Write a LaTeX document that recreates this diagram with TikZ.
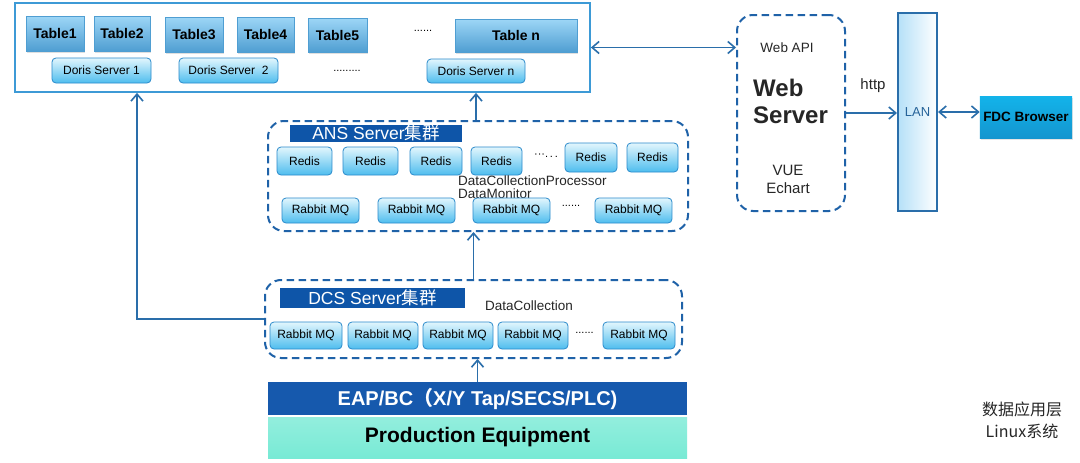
\documentclass[tikz,border=0pt]{standalone}
\usepackage{fontspec}
\setmainfont{Liberation Sans}
\newfontfamily\cjk{Noto Sans CJK SC}
\usepackage{tikz}
\usetikzlibrary{arrows.meta,positioning,calc,shadows}
\definecolor{linkblue}{HTML}{2A6EAA}
\definecolor{frameblue}{HTML}{3D9AD6}
\definecolor{tabtop}{HTML}{9DD6F6}
\definecolor{tabbot}{HTML}{4F9ED2}
\definecolor{srvtop}{HTML}{E2F6FD}
\definecolor{srvbot}{HTML}{4EBDEE}
\definecolor{srvline}{HTML}{2A8ACB}
\definecolor{clusterline}{HTML}{1F62A8}
\definecolor{titleblue}{HTML}{0E55A8}
\definecolor{eapblue}{HTML}{1659AD}
\definecolor{mint}{HTML}{78EAD5}
\definecolor{fdcblue}{HTML}{16A6E6}
\tikzset{
  tablebox/.style={rectangle, inner sep=0pt, top color=tabtop, bottom color=tabbot,
    draw=tabbot, line width=0.4pt, font=\fontsize{14}{16}\selectfont\bfseries,
    drop shadow={opacity=0.25, shadow xshift=1pt, shadow yshift=-1.5pt}},
  srvbox/.style={rectangle, rounded corners=4pt, draw=srvline, line width=0.8pt,
    top color=srvtop, bottom color=srvbot, inner sep=0pt,
    font=\fontsize{12}{13}\selectfont},
  cluster/.style={rectangle, rounded corners=16pt, draw=clusterline, line width=2pt,
    dash pattern=on 7.5pt off 4.5pt},
  clustertitle/.style={rectangle, fill=titleblue, text=white, inner sep=0pt,
    font=\fontsize{17.5}{19}\selectfont},
  bar/.style={rectangle, inner sep=0pt, font=\fontsize{20}{22}\selectfont\bfseries},
  note/.style={font=\fontsize{13}{14}\selectfont, text=black!85, inner sep=0pt},
  dotsnote/.style={font=\fontsize{11}{12}\selectfont, inner sep=0pt},
  flow/.style={-{Straight Barb[length=7pt,width=12pt]}, line width=1.6pt, draw=linkblue},
  flowboth/.style={{Straight Barb[length=7pt,width=12pt]}-{Straight Barb[length=7pt,width=12pt]},
    line width=1.6pt, draw=linkblue},
}

\begin{document}
\begin{tikzpicture}[x=1pt, y=-1pt]
  \useasboundingbox[fill=white] (0,0) rectangle (1080,463);

  % storage layer
  \node[rectangle, draw=frameblue, line width=1.8pt, fill=white, minimum width=575pt,
    minimum height=89pt] (dorisbox) at (302.5,47.5) {};
  \node[tablebox, minimum width=58pt, minimum height=35pt] (t1) at (55,33.5) {Table1};
  \node[tablebox, minimum width=56pt, minimum height=35pt] (t2) at (122,33.5) {Table2};
  \node[tablebox, minimum width=58pt, minimum height=35pt] (t3) at (194,34.5) {Table3};
  \node[tablebox, minimum width=57pt, minimum height=35pt] (t4) at (265.5,34.5) {Table4};
  \node[tablebox, minimum width=59pt, minimum height=34pt] (t5) at (337.5,35) {Table5};
  \node[dotsnote] (tdots) at (423,31) {......};
  \node[tablebox, minimum width=122pt, minimum height=33pt] (tn) at (516,35.5) {Table n};
  \node[srvbox, minimum width=99pt, minimum height=25pt] (d1) at (101.5,70.5) {Doris Server 1};
  \node[srvbox, minimum width=99pt, minimum height=25pt] (d2) at (228.5,70.5) {Doris Server\ \ 2};
  \node[dotsnote] (ddots) at (347,71) {.........};
  \node[srvbox, minimum width=98pt, minimum height=24pt] (dn) at (476,71) {Doris Server n};

  % ANS cluster
  \node[cluster, minimum width=420pt, minimum height=110pt] (ans) at (478,176) {};
  \node[clustertitle, minimum width=172pt, minimum height=17pt] (anstitle) at (376,133)
    {ANS Server{\cjk 集群}};
  \node[srvbox, minimum width=55pt, minimum height=28pt] (r1) at (304.5,161) {Redis};
  \node[srvbox, minimum width=55pt, minimum height=28pt] (r2) at (370.5,161) {Redis};
  \node[srvbox, minimum width=52pt, minimum height=28pt] (r3) at (436,161) {Redis};
  \node[srvbox, minimum width=51pt, minimum height=28pt] (r4) at (496.5,161) {Redis};
  \node[dotsnote] (rdots) at (546,156) {···.\,.\,.};
  \node[srvbox, minimum width=52pt, minimum height=29pt] (r5) at (591,157.5) {Redis};
  \node[srvbox, minimum width=51pt, minimum height=29pt] (r6) at (652.5,157.5) {Redis};
  \node[note, anchor=west, align=left, font=\fontsize{13.5}{13}\selectfont] (dcp) at (458,187)
    {DataCollectionProcessor\\DataMonitor};
  \node[srvbox, minimum width=77pt, minimum height=25pt] (m1) at (320.5,210.5) {Rabbit MQ};
  \node[srvbox, minimum width=77pt, minimum height=25pt] (m2) at (416.5,210.5) {Rabbit MQ};
  \node[srvbox, minimum width=77pt, minimum height=25pt] (m3) at (511.5,210.5) {Rabbit MQ};
  \node[dotsnote] (mdots) at (571,206) {......};
  \node[srvbox, minimum width=77pt, minimum height=25pt] (m4) at (633.5,210.5) {Rabbit MQ};

  % DCS cluster
  \node[cluster, minimum width=417pt, minimum height=78pt] (dcs) at (473.5,319) {};
  \node[clustertitle, minimum width=185pt, minimum height=20pt] (dcstitle) at (372.5,298)
    {DCS Server{\cjk 集群}};
  \node[note, font=\fontsize{13.5}{14}\selectfont] (dcnote) at (529,306) {DataCollection};
  \node[srvbox, minimum width=72pt, minimum height=27pt] (q1) at (306,335.5) {Rabbit MQ};
  \node[srvbox, minimum width=70pt, minimum height=27pt] (q2) at (383,335.5) {Rabbit MQ};
  \node[srvbox, minimum width=70pt, minimum height=27pt] (q3) at (458,335.5) {Rabbit MQ};
  \node[srvbox, minimum width=70pt, minimum height=27pt] (q4) at (533,335.5) {Rabbit MQ};
  \node[dotsnote] (qdots) at (584.5,333) {......};
  \node[srvbox, minimum width=72pt, minimum height=27pt] (q5) at (639,335.5) {Rabbit MQ};

  % equipment
  \node[bar, fill=eapblue, text=white, minimum width=419pt, minimum height=33pt] (eap)
    at (477.5,398.5) {EAP/BC{\cjk （}X/Y Tap/SECS/PLC)};
  \node[bar, top color=mint!80!white, bottom color=mint, text=black, minimum width=419pt,
    minimum height=41pt, font=\fontsize{21}{23}\selectfont\bfseries] (prod)
    at (477.5,437.5) {Production Equipment};

  % web side
  \node[cluster, minimum width=108pt, minimum height=196pt] (web) at (791,113) {};
  \node[note, font=\fontsize{13.5}{15}\selectfont] (webapi) at (787,48) {Web API};
  \node[note, anchor=west, align=left, font=\fontsize{24}{27}\selectfont\bfseries]
    (webname) at (753,101) {Web\\Server};
  \node[note, align=center, font=\fontsize{15}{18}\selectfont] (vue) at (788,179)
    {VUE\\Echart};
  \node[rectangle, draw=linkblue, line width=2pt, left color=tabtop!75, right color=white,
    minimum width=39pt, minimum height=198pt] (lan) at (917.5,112) {};
  \node[note, text=linkblue!90!black] (lantext) at (917.5,112) {LAN};
  \node[rectangle, top color=fdcblue!85!cyan, bottom color=fdcblue!90!black,
    minimum width=92pt, minimum height=42pt, font=\fontsize{13.5}{15}\selectfont\bfseries,
    drop shadow={opacity=0.2, shadow xshift=1pt, shadow yshift=-1.5pt}] (fdc)
    at (1026,117) {FDC Browser};
  \node[note, font=\fontsize{15}{16}\selectfont] (http) at (873,86) {http};

  \node[align=center, text=black!85, font=\cjk\fontsize{16}{22}\selectfont] (layer)
    at (1022,420) {数据应用层\\Linux系统};

  % links
  \coordinate (leftup) at (137,0);
  \draw[flow] (eap.north) -- (eap.north |- dcs.south);
  \draw[flow] (dcs.north) -- (dcs.north |- ans.south);
  \draw[flow] (ans.north -| dn.south) -- (dorisbox.south -| dn.south);
  \draw[flow] (dcs.west) -| (dorisbox.south -| leftup);
  \draw[flowboth] (dorisbox.east) -- (dorisbox.east -| web.west);
  \draw[flow] (web.east) -- (web.east -| lan.west);
  \draw[flowboth] (lan.east) -- (lan.east -| fdc.west);
\end{tikzpicture}
\end{document}
